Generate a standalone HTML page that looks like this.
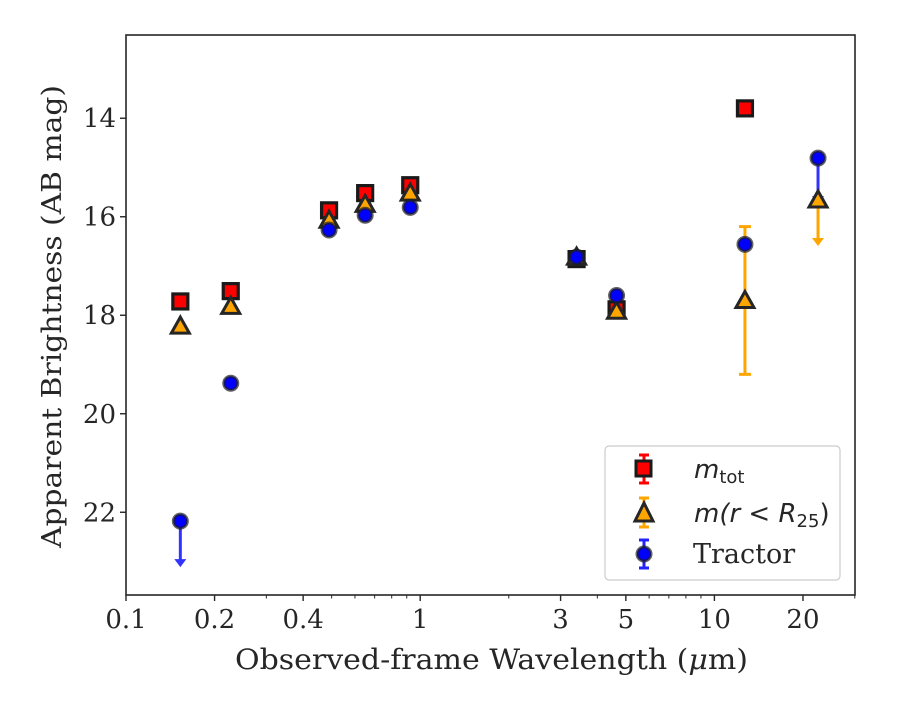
<!DOCTYPE html>
<html><head><meta charset="utf-8"><style>
body{margin:0;background:#fff;}
text{font-family:"DejaVu Serif","Liberation Serif",serif;fill:#262626;}
text.sans{font-family:"DejaVu Sans","Liberation Sans",sans-serif;}
</style></head><body>
<svg id="chart" width="900" height="700" xmlns="http://www.w3.org/2000/svg">
<rect width="900" height="700" fill="#fff"/>
<g id="marks"></g>
<rect x="126" y="35" width="729" height="560" fill="none" stroke="#262626" stroke-width="1.6"/>
<g id="axes"></g>
<text x="235" y="669" font-size="28" textLength="513" lengthAdjust="spacingAndGlyphs">Observed-frame Wavelength (<tspan font-style="italic">μ</tspan>m)</text>
<text transform="translate(61,548) rotate(-90)" font-size="27" textLength="463" lengthAdjust="spacingAndGlyphs">Apparent Brightness (AB mag)</text>
<g>
<rect x="605" y="446" width="235" height="134" rx="4" fill="#fff" stroke="#ccc" stroke-width="1.2"/>
<g>
<line x1="644" y1="455" x2="644" y2="483" stroke="red" stroke-width="3"/>
<line x1="639" y1="455" x2="649" y2="455" stroke="red" stroke-width="3"/>
<line x1="639" y1="483" x2="649" y2="483" stroke="red" stroke-width="3"/>
<rect x="636" y="461" width="15" height="15" fill="red" stroke="#1a1a1a" stroke-width="3"/>
<text class="sans" x="694" y="478" font-size="26" font-style="italic">m<tspan font-style="normal" font-size="18" dy="5">tot</tspan></text>
</g>
<g>
<line x1="644" y1="498" x2="644" y2="527" stroke="orange" stroke-width="3"/>
<line x1="639" y1="498" x2="649" y2="498" stroke="orange" stroke-width="3"/>
<line x1="639" y1="527" x2="649" y2="527" stroke="orange" stroke-width="3"/>
<polygon points="644,503 653,521 635,521" fill="orange" stroke="#262626" stroke-width="3"/>
<text class="sans" x="694" y="522" font-size="26" font-style="italic">m(r &lt; R<tspan font-style="normal" font-size="18" dy="5">25</tspan><tspan dy="-5" font-style="normal">)</tspan></text>
</g>
<g>
<line x1="644" y1="540" x2="644" y2="568" stroke="#2222ff" stroke-width="3"/>
<line x1="639" y1="540" x2="649" y2="540" stroke="#2222ff" stroke-width="3"/>
<line x1="639" y1="568" x2="649" y2="568" stroke="#2222ff" stroke-width="3"/>
<circle cx="644" cy="554" r="7" fill="blue" stroke="rgba(30,30,30,0.7)" stroke-width="3"/>
<text x="693" y="563" font-size="27">Tractor</text>
</g>
</g>
</svg>
<script>
const wavelengths=[0.153,0.227,0.49,0.65,0.925,3.4,4.65,12.7,22.5];
const mTot=[17.72,17.51,15.87,15.52,15.36,16.86,17.88,13.80,null];
const mR25=[18.22,17.82,16.07,15.75,15.52,16.82,17.92,17.70,15.66];
const mR25Err=[0,0,0,0,0,0,0,1.5,0];
const mR25Upper=[false,false,false,false,false,false,false,false,true];
const tractor=[22.18,19.38,16.27,15.97,15.81,16.82,17.60,16.56,14.81];
const tractorUpper=[true,false,false,false,false,false,false,false,true];
const xTicks=[0.1,0.2,0.4,1,3,5,10,20];
const xTickLabels=["0.1","0.2","0.4","1","3","5","10","20"];
const yTicks=[14,16,18,20,22];

const NS="http://www.w3.org/2000/svg";
const X0=126,X1=855,Y0=35,Y1=595;
const xMin=Math.log10(0.1),xMax=Math.log10(30.05);
const yTop=12.31,yBot=23.68;
function xs(v){return X0+(Math.log10(v)-xMin)/(xMax-xMin)*(X1-X0);}
function ys(v){return Y0+(v-yTop)/(yBot-yTop)*(Y1-Y0);}
function mk(tag,attrs,parent){const e=document.createElementNS(NS,tag);for(const k in attrs)e.setAttribute(k,attrs[k]);parent.appendChild(e);return e;}
const marks=document.getElementById('marks'),axes=document.getElementById('axes');

for(let d=-1;d<=1;d++)for(let m=1;m<=9;m++){const v=m*Math.pow(10,d);if(v>30.05)continue;const x=xs(v);
 const major=xTicks.includes(+v.toPrecision(3));
 const t=mk('line',{x1:x,y1:Y1,x2:x,y2:Y1+(major?6:3.5),stroke:'#262626','stroke-width':major?1.4:1},axes);
 
 }
xTicks.forEach((v,i)=>{const t=mk('text',{x:xs(v),y:Y1+33,'font-size':26,'text-anchor':'middle'},axes);t.textContent=xTickLabels[i];
 
 });
yTicks.forEach(v=>{const y=ys(v);
 const l=mk('line',{x1:X0-6,y1:y,x2:X0,y2:y,stroke:'#262626','stroke-width':1.4},axes);
 
 
 const t=mk('text',{x:X0-10,y:y+9,'font-size':26,'text-anchor':'end'},axes);t.textContent=v;
 
 });

function arrow(x,y,color){
 const len=46;
 mk('line',{x1:x,y1:y,x2:x,y2:y+len-4,stroke:color,'stroke-width':3},marks);
 mk('polygon',{points:`${x-6},${y+len-8} ${x+6},${y+len-8} ${x},${y+len}`,fill:color},marks);
}
wavelengths.forEach((w,i)=>{
 const x=xs(w);
 if(tractorUpper[i])arrow(x,ys(tractor[i]),'#3333ff');
 if(mR25Err[i]>0){const a=ys(mR25[i]-mR25Err[i]),b=ys(mR25[i]+mR25Err[i]);
  mk('line',{x1:x,y1:a,x2:x,y2:b,stroke:'orange','stroke-width':3},marks);
  mk('line',{x1:x-6,y1:a,x2:x+6,y2:a,stroke:'orange','stroke-width':3},marks);
  mk('line',{x1:x-6,y1:b,x2:x+6,y2:b,stroke:'orange','stroke-width':3},marks);}
 if(mR25Upper[i])arrow(x,ys(mR25[i]),'orange');
});
wavelengths.forEach((w,i)=>{
 const x=xs(w);
 if(mTot[i]!==null){const y=ys(mTot[i]);
  const r=mk('rect',{x:x-7.5,y:y-7.5,width:15,height:15,fill:'red',stroke:'#1a1a1a','stroke-width':3.2},marks);
  
  }
});
wavelengths.forEach((w,i)=>{
 const x=xs(w),y=ys(mR25[i]);
 const p=mk('polygon',{points:`${x},${y-9} ${x+9},${y+7} ${x-9},${y+7}`,fill:'orange',stroke:'#262626','stroke-width':3},marks);
 
 
});
wavelengths.forEach((w,i)=>{
 const x=xs(w),y=ys(tractor[i]);
 const c=mk('circle',{cx:x,cy:y,r:7,fill:'blue',stroke:'rgba(30,30,30,0.7)','stroke-width':3},marks);
 
 
});
</script>
</body></html>
